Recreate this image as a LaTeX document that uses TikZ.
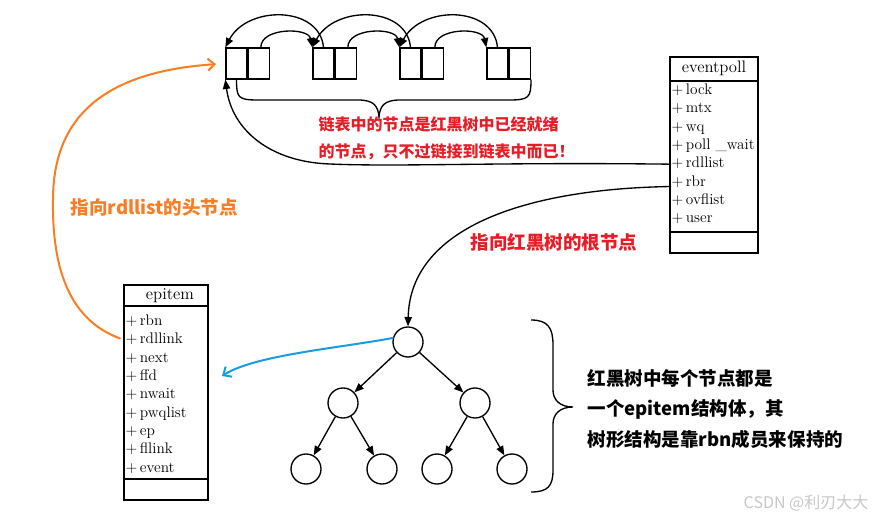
\documentclass[tikz,border=0pt]{standalone}
\usepackage{fontspec}
\newfontfamily\cjk{Noto Sans CJK SC}
\usetikzlibrary{positioning}
\usetikzlibrary{arrows.meta}
\definecolor{notered}{RGB}{232,28,38}
\definecolor{markorange}{RGB}{250,125,35}
\definecolor{markblue}{RGB}{25,155,225}

\begin{document}
\begin{tikzpicture}[x = 0.75pt, y = -0.75pt, line width = 1pt,
	cell/.style = {draw, minimum width = 15.75pt, minimum height = 23.25pt, inner sep = 0pt},
	tnode/.style = {draw, circle, minimum size = 22.5pt, inner sep = 0pt},
	field/.style = {anchor = west, inner sep = 0pt, text height = 8pt, text depth = 2.5pt, font = \fontsize{11.5}{13}\selectfont},
	headtext/.style = {inner sep = 0pt, font = \fontsize{12.5}{14}\selectfont},
	ptr/.style = {-{Triangle[length = 7pt, width = 5.5pt]}},
	handarrow/.style = {line width = 1.5pt, line cap = round, -{Straight Barb[length = 5pt, width = 9pt]}},
	note/.style = {anchor = west, align = left, inner sep = 0pt, font = \cjk\bfseries\fontsize{13.9}{23}\selectfont}]
	\useasboundingbox (0, 0) rectangle (877, 520);

	% ready list
	\foreach \i/\x in {1/236.5, 2/323.5, 3/410.5, 4/497.5} {
		\node[cell] (c\i-a) at (\x, 63.5) {};
		\node[cell, right = 0pt of c\i-a] (c\i-b) {};
	}
	\foreach \i/\j in {1/2, 2/3, 3/4} {
		\draw[ptr] ([xshift = 1.5pt]c\i-b.north) .. controls +(0, -20) and +(-4, -20) .. (c\j-a.north west);
		\draw[ptr] (c\j-a.north) .. controls +(-4, -42) and +(22, -42) .. (c\i-a.north west);
	}
	\draw (c1-a.south) .. controls +(0, 18) and +(-20, 0) .. (258, 100) -- (358, 100) .. controls (374, 100) and (378, 106) .. (379, 117) .. controls (380, 106) and (384, 100) .. (400, 100) -- (509, 100) .. controls +(20, 0) and +(0, 18) .. (c4-b.south east);
	\node[note, text = notered, font = \cjk\bfseries\fontsize{12}{20.25}\selectfont] (listnote) at (318, 138.5) {链表中的节点是红黑树中已经就绪\\的节点，只不过链接到链表中而已！};

	% eventpoll
	\draw (670, 57) rectangle (758, 253);
	\draw (670, 81) -- (758, 81);
	\draw (670, 232) -- (758, 232);
	\node[headtext] (eptitle) at (714, 68) {eventpoll};
	\foreach \n/\t [count = \i] in {lock/lock, mtx/mtx, wq/wq, pollwait/poll \_wait, rdllist/rdllist, rbr/rbr, ovflist/ovflist, user/user}
		\node[field] (ep-\n) at (671, {72.7 + 18.3 * \i}) {+\,\t};

	% epitem
	\draw (124, 285) rectangle (208, 500);
	\draw (124, 306) -- (208, 306);
	\draw (124, 479) -- (208, 479);
	\node[headtext] (ittitle) at (170, 296) {epitem};
	\foreach \n [count = \i] in {rbn, rdllink, next, ffd, nwait, pwqlist, ep, fllink, event}
		\node[field] (it-\n) at (125, {303.7 + 18.3 * \i}) {+\,\n};

	% red-black tree
	\node[tnode] (t0) at (408, 342) {};
	\node[tnode] (t1) at (343, 403) {};
	\node[tnode] (t2) at (475, 403) {};
	\node[tnode] (t11) at (306, 469) {};
	\node[tnode] (t12) at (382, 469) {};
	\node[tnode] (t21) at (437, 469) {};
	\node[tnode] (t22) at (512, 469) {};
	\foreach \p/\c in {t0/t1, t0/t2, t1/t11, t1/t12, t2/t21, t2/t22}
		\draw[ptr] (\p) -- (\c);

	\draw[ptr] (ep-rdllist.west) .. controls (500, 162) and (400, 167) .. (330, 164) .. controls (270, 162) and (232, 130) .. (c1-a.south west);
	\draw[ptr] ([yshift = -3pt]ep-rbr.west) .. controls (520, 189) and (410, 230) .. (t0.north);
	\node[note, text = notered] (rootnote) at (470, 242) {指向红黑树的根节点};

	\draw[handarrow, markorange, shorten <= 4pt, shorten >= 7pt] (it-rdllink.west) .. controls (70, 320) and (52, 270) .. (53, 200) .. controls (53, 120) and (100, 72) .. (c1-a.west);
	\node[note, text = markorange] (headnote) at (70, 207) {指向rdllist的头节点};

	\coordinate (bluetip) at (222, 376);
	\draw[handarrow, markblue] (t0.165) .. controls (340, 348) and (255, 355) .. (bluetip);

	\draw (531, 320) .. controls (548, 320) and (553, 328) .. (553, 345) -- (553, 390) .. controls (553, 400) and (560, 407) .. (573, 407) .. controls (560, 407) and (553, 414) .. (553, 424) -- (553, 470) .. controls (553, 486) and (548, 492) .. (531, 492);
	\node[note] (treenote) at (587, 409) {红黑树中每个节点都是\\一个epitem结构体，其\\树形结构是靠rbn成员来保持的};

	\node[anchor = east, inner sep = 0pt, text = black!22, font = \cjk\fontsize{12}{14}\selectfont] (csdn) at (869, 503) {CSDN @利刃大大};
\end{tikzpicture}
\end{document}
